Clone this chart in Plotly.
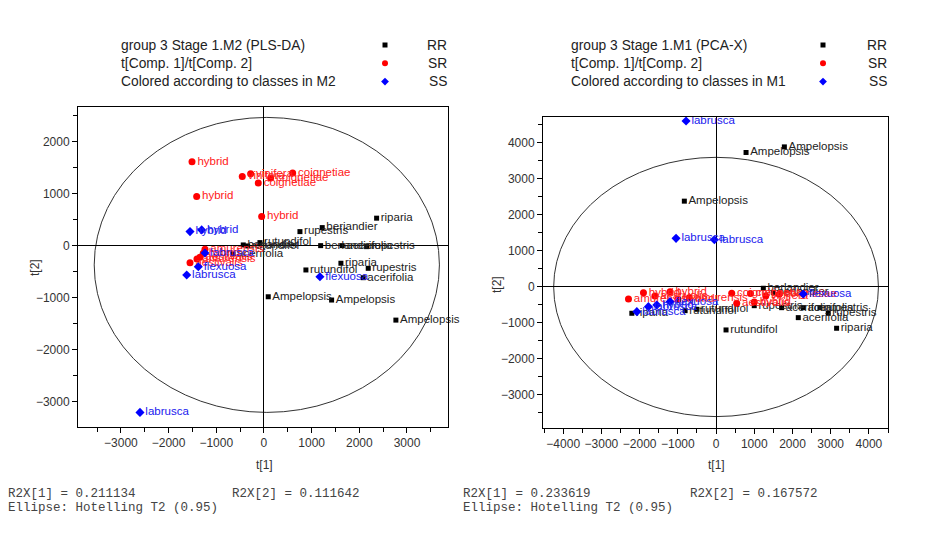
import plotly.graph_objects as go

# ---------------- Left: PLS-DA (M2) ----------------
L_RR_lab = ["riparia", "beriandier", "rupestris", "rutundifol", "berlandier", "rutundifol",
            "berlandier", "acerifolia", "rupestris", "riparia", "rutundifol", "rupestris",
            "acerifolia", "Ampelopsis", "Ampelopsis", "Ampelopsis", "acerifolia"]
L_RR_x = [2363, 1222, 755, -84, -434, -342, 1189, 1641, 2153, 1614, 880, 2187, 2082, 90, 1419, 2767, -650]
L_RR_y = [527, 346, 269, 58, 13, -6, 0, 0, -19, -338, -467, -435, -615, -981, -1044, -1429, -160]

L_SR_lab = ["hybrid", "vinifera", "vinifera", "coignetiae", "coignetiae", "coignetiae", "hybrid", "hybrid",
            "amurensis", "hybrid", "aestivalis", "aestivalis", "amurensis"]
L_SR_x = [-1509, -455, -279, 140, 602, -119, -1411, -48, -1237, -1273, -1342, -1551, -1405]
L_SR_y = [1610, 1327, 1379, 1296, 1392, 1200, 942, 558, -69, -146, -223, -327, -256]

L_SS_lab = ["hybrid", "hybrid", "labrusca", "labrusca", "flexuosa", "flexuosa", "labrusca"]
L_SS_x = [-1551, -1306, -2600, -1620, -1377, 1174, -1237]
L_SS_y = [269, 302, -3200, -563, -404, -596, -140]

# ---------------- Right: PCA-X (M1) ----------------
R_RR_lab = ["Ampelopsis", "Ampelopsis", "Ampelopsis", "riparia", "rutundifol", "riparia", "acerifolia",
            "rupestris", "acerifolia", "acerifolia", "rupestris", "berlandier", "rutundifol", "rupestris",
            "berlandier", "rutundifol"]
R_RR_x = [785, 1788, -830, -2204, 261, 3155, 2152, 2936, 1717, 2283, 2719, 1237, -810, 1000, 1500, -500]
R_RR_y = [3735, 3890, 2383, -731, -1194, -1147, -852, -731, -575, -575, -575, -36, -658, -520, -150, -620]

R_SR_lab = ["amurensis", "hybrid", "hybrid", "aestivalis", "coignetiae", "coignetiae", "vinifera",
            "coignetiae", "hybrid", "amurensis", "aestivalis", "hybrid"]
R_SR_x = [-2292, -1900, -1203, -1600, 410, 900, 1300, 1650, -1000, -700, 541, 1000]
R_SR_y = [-333, -158, -130, -250, -175, -180, -250, -200, -350, -300, -453, -420]

R_SS_lab = ["labrusca", "labrusca", "labrusca", "flexuosa", "labrusca", "labrusca", "hybrid", "flexuosa"]
R_SS_x = [-785, -1047, -44, 2283, -2073, -1770, -1550, -1203]
R_SS_y = [4610, 1350, 1313, -194, -686, -547, -500, -408]

L_R2X = ["R2X[1] = 0.211134", "R2X[2] = 0.111642"]
R_R2X = ["R2X[1] = 0.233619", "R2X[2] = 0.167572"]
ELLIPSE_TXT = "Ellipse: Hotelling T2 (0.95)"
L_HEAD = ["group 3 Stage 1.M2 (PLS-DA)", "t[Comp. 1]/t[Comp. 2]", "Colored according to classes in M2"]
R_HEAD = ["group 3 Stage 1.M1 (PCA-X)", "t[Comp. 1]/t[Comp. 2]", "Colored according to classes in M1"]
CLASSES = ["RR", "SR", "SS"]

# ellipse (center x, center y, semi-axis x, semi-axis y)
L_ELL = (60, -370, 3620, 2830)
R_ELL = (0, 0, 4250, 3600)

COL = {"RR": "#000000", "SR": "#ff0000", "SS": "#0000ff"}
SYM = {"RR": "square", "SR": "circle", "SS": "diamond"}
MSZ = {"RR": 5, "SR": 7, "SS": 7}
TXTCOL = {"RR": "#222222", "SR": "#ff2020", "SS": "#2020ee"}

W, H = 925, 540
OFF = 8  # page body margin of the browser


def px(x):
    return (x - OFF) / W


def py(y):
    return 1 - (y - OFF) / H


fig = go.Figure()


def add(cls, xs, ys, labs, xa, ya):
    fig.add_trace(go.Scatter(
        x=xs, y=ys, text=labs, mode="markers+text", textposition="middle right",
        marker=dict(symbol=SYM[cls], color=COL[cls], size=MSZ[cls], line=dict(width=0)),
        textfont=dict(family="Liberation Sans, Arial", size=11.5, color=TXTCOL[cls]),
        xaxis=xa, yaxis=ya, showlegend=False, cliponaxis=False, hoverinfo="skip"))


add("RR", L_RR_x, L_RR_y, L_RR_lab, "x", "y")
add("SR", L_SR_x, L_SR_y, L_SR_lab, "x", "y")
add("SS", L_SS_x, L_SS_y, L_SS_lab, "x", "y")
add("RR", R_RR_x, R_RR_y, R_RR_lab, "x2", "y2")
add("SR", R_SR_x, R_SR_y, R_SR_lab, "x2", "y2")
add("SS", R_SS_x, R_SS_y, R_SS_lab, "x2", "y2")

axcommon = dict(showline=True, linecolor="#000", linewidth=1, mirror=True, showgrid=False,
                zeroline=True, zerolinecolor="#000", zerolinewidth=1, automargin=False,
                ticks="outside", ticklen=5, tickcolor="#000", dtick=1000,
                minor=dict(ticks="outside", ticklen=4, dtick=500, tickcolor="#000"),
                tickfont=dict(family="Liberation Sans, Arial", size=12, color="#333"))

fig.update_layout(
    width=W, height=H, margin=dict(l=0, r=0, t=0, b=0, autoexpand=False),
    paper_bgcolor="white", plot_bgcolor="rgba(0,0,0,0)",
    xaxis=dict(domain=[px(78), px(448)], range=[-3900, 3860], anchor="y", **axcommon),
    yaxis=dict(domain=[py(427), py(107)], range=[-3480, 2660], anchor="x", **axcommon),
    xaxis2=dict(domain=[px(543), px(888)], range=[-4529, 4500], anchor="y2", **axcommon),
    yaxis2=dict(domain=[py(428), py(117)], range=[-3917, 4720], anchor="x2", **axcommon),
)

shapes = []
for (cx, cy, a, b), xr, yr in [(L_ELL, "x", "y"), (R_ELL, "x2", "y2")]:
    shapes.append(dict(type="circle", xref=xr, yref=yr, x0=cx - a, x1=cx + a, y0=cy - b, y1=cy + b,
                       line=dict(color="#333", width=1), layer="below"))
fig.update_layout(shapes=shapes)

anns = []
hf = dict(family="Liberation Sans, Arial", size=13.8, color="#222")
af = dict(family="Liberation Sans, Arial", size=12, color="#333")
for head, x0, xm, xl in [(L_HEAD, 119, 385, 449), (R_HEAD, 569, 823, 889)]:
    for i, t in enumerate(head):
        yy = 45 + 18.3 * i
        anns.append(dict(text=t, x=px(x0), y=py(yy), xref="paper", yref="paper",
                         xanchor="left", yanchor="middle", showarrow=False, font=hf))
        anns.append(dict(text=CLASSES[i], x=px(xl), y=py(yy), xref="paper", yref="paper",
                         xanchor="right", yanchor="middle", showarrow=False, font=hf))
    for i, c in enumerate(CLASSES):
        yy = 45 + 18.3 * i
        fig.add_trace(go.Scatter(x=[px(xm)], y=[py(yy)], mode="markers",
                                 marker=dict(symbol=SYM[c], color=COL[c], size=MSZ[c] + (0 if c == "RR" else -1)),
                                 xaxis="x3", yaxis="y3", showlegend=False, hoverinfo="skip"))

# axis titles
for x, y, t, ang in [(264, 465, "t[1]", 0), (716, 465, "t[1]", 0), (35, 268, "t[2]", -90), (497, 285, "t[2]", -90)]:
    anns.append(dict(text=t, x=px(x), y=py(y), xref="paper", yref="paper", xanchor="center",
                     yanchor="middle", showarrow=False, font=af, textangle=ang))

mf = dict(family="Liberation Mono, Courier New", size=12.5, color="#444")
for r2x, x0, x1 in [(L_R2X, 6, 230), (R_R2X, 461, 688)]:
    anns.append(dict(text=r2x[0], x=px(x0), y=py(494), xref="paper", yref="paper",
                     xanchor="left", yanchor="middle", showarrow=False, font=mf))
    anns.append(dict(text=r2x[1], x=px(x1), y=py(494), xref="paper", yref="paper",
                     xanchor="left", yanchor="middle", showarrow=False, font=mf))
    anns.append(dict(text=ELLIPSE_TXT, x=px(x0), y=py(508), xref="paper", yref="paper",
                     xanchor="left", yanchor="middle", showarrow=False, font=mf))
fig.update_layout(annotations=anns,
                  xaxis3=dict(domain=[0, 1], range=[0, 1], visible=False, anchor="y3", automargin=False),
                  yaxis3=dict(domain=[0, 1], range=[0, 1], visible=False, anchor="x3", automargin=False))

fig.write_html("out.html")
